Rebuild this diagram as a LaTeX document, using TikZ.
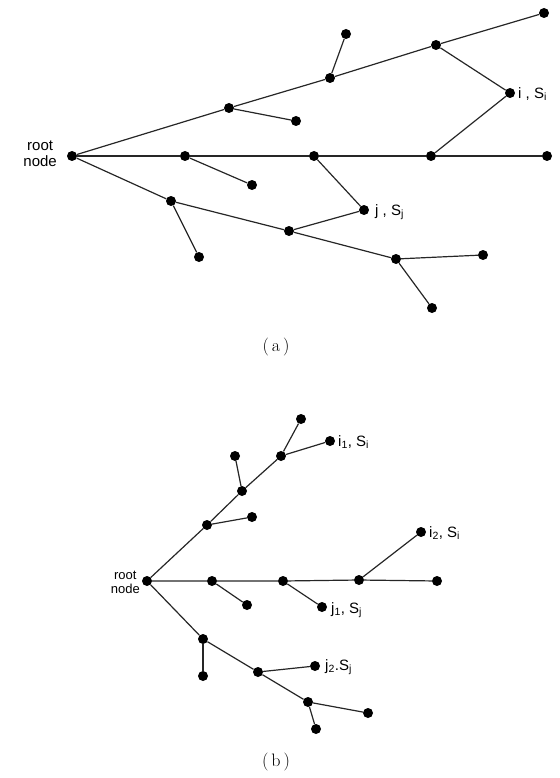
\documentclass[tikz,border=0pt]{standalone}
\usepackage{fontspec}
\setmainfont{Latin Modern Roman}
\newfontfamily\labfont{Liberation Sans}
\begin{document}
\begin{tikzpicture}[x=1pt,y=-1pt,
  dot/.style={circle,fill=black,inner sep=0pt,minimum width=10pt,minimum height=9pt},
  edge/.style={draw=black!85,line width=1.2pt},
  lab/.style={font=\labfont\fontsize{15}{15}\selectfont,inner sep=0pt,anchor=west},
  rootlab/.style={font=\labfont\fontsize{15}{16}\selectfont,inner sep=0pt,align=center,anchor=east},
  captext/.style={font=\fontsize{18}{18}\selectfont,inner sep=0pt}]
\useasboundingbox (0,0) rectangle (559,778);
% ---------- (a) ----------
\node[dot] (ar) at (72,156) {};
\node[dot] (at1) at (229,108) {};
\node[dot] (at2) at (330,78) {};
\node[dot] (at3) at (436,45) {};
\node[dot] (at4) at (544,13) {};
\node[dot] (at2s) at (346,34) {};
\node[dot] (at1s) at (296,121) {};
\node[dot] (ai) at (510,93) {};
\node[dot] (am1) at (185,156) {};
\node[dot] (am2) at (314,156) {};
\node[dot] (am3) at (431,156) {};
\node[dot] (am4) at (547,156) {};
\node[dot] (am1s) at (252,185) {};
\node[dot] (aj) at (364,210) {};
\node[dot] (ab1) at (171,201) {};
\node[dot] (ab1s) at (199,257) {};
\node[dot] (ab2) at (289,231) {};
\node[dot] (ab3) at (396,259) {};
\node[dot] (ab3a) at (483,255) {};
\node[dot] (ab3b) at (432,308) {};
\draw[edge] (ar) -- (at1) -- (at2) -- (at3) -- (at4);
\draw[edge] (at1) -- (at1s);
\draw[edge] (at2) -- (at2s);
\draw[edge] (at3) -- (ai) -- (am3);
\draw[edge] (ar) -- (am1) -- (am2) -- (am3) -- (am4);
\draw[edge] (am1) -- (am1s);
\draw[edge] (am2) -- (aj) -- (ab2);
\draw[edge] (ar) -- (ab1) -- (ab2) -- (ab3);
\draw[edge] (ab1) -- (ab1s);
\draw[edge] (ab3) -- (ab3a);
\draw[edge] (ab3) -- (ab3b);
\node[rootlab] (arl) at (57,154) {root\\node};
\node[lab] (ail) at (518,94) {i , S\textsubscript{i}};
\node[lab] (ajl) at (375,212) {j , S\textsubscript{j}};
\node[captext] (capa) at (276,347) {(\,a\,)};
% ---------- (b) ----------
\node[dot] (br) at (147,581) {};
\node[dot] (bu1) at (207,525) {};
\node[dot] (bu1s) at (252,517) {};
\node[dot] (bu2) at (242,491) {};
\node[dot] (bu2s) at (235,456) {};
\node[dot] (bu3) at (281,456) {};
\node[dot] (bu3s) at (301,419) {};
\node[dot] (bi1) at (330,441) {};
\node[dot] (bm1) at (212,581) {};
\node[dot] (bm1s) at (247,605) {};
\node[dot] (bm2) at (283,581) {};
\node[dot] (bj1) at (322,607) {};
\node[dot] (bm3) at (359,580) {};
\node[dot] (bi2) at (421,532) {};
\node[dot] (bm4) at (437,581) {};
\node[dot] (bl1) at (203,639) {};
\node[dot] (bl1s) at (203,676) {};
\node[dot] (bl2) at (258,672) {};
\node[dot] (bj2) at (315,666) {};
\node[dot] (bl3) at (308,702) {};
\node[dot] (bl3a) at (368,713) {};
\node[dot] (bl3b) at (316,729) {};
\draw[edge] (br) -- (bu1) -- (bu2) -- (bu3) -- (bi1);
\draw[edge] (bu1) -- (bu1s);
\draw[edge] (bu2) -- (bu2s);
\draw[edge] (bu3) -- (bu3s);
\draw[edge] (br) -- (bm1) -- (bm2) -- (bm3) -- (bm4);
\draw[edge] (bm1) -- (bm1s);
\draw[edge] (bm2) -- (bj1);
\draw[edge] (bm3) -- (bi2);
\draw[edge] (br) -- (bl1) -- (bl2) -- (bl3) -- (bl3a);
\draw[edge] (bl1) -- (bl1s);
\draw[edge] (bl2) -- (bj2);
\draw[edge] (bl3) -- (bl3b);
\node[rootlab,font=\labfont\fontsize{13}{14}\selectfont] (brl) at (140,582) {root\\node};
\node[lab] (bi1l) at (338,442) {i\textsubscript{1}, S\textsubscript{i}};
\node[lab] (bi2l) at (429,533) {i\textsubscript{2}, S\textsubscript{i}};
\node[lab] (bj1l) at (331,610) {j\textsubscript{1}, S\textsubscript{j}};
\node[lab] (bj2l) at (325,667) {j\textsubscript{2}.S\textsubscript{j}};
\node[captext] (capb) at (276,762) {(\,b\,)};
\end{tikzpicture}
\end{document}
